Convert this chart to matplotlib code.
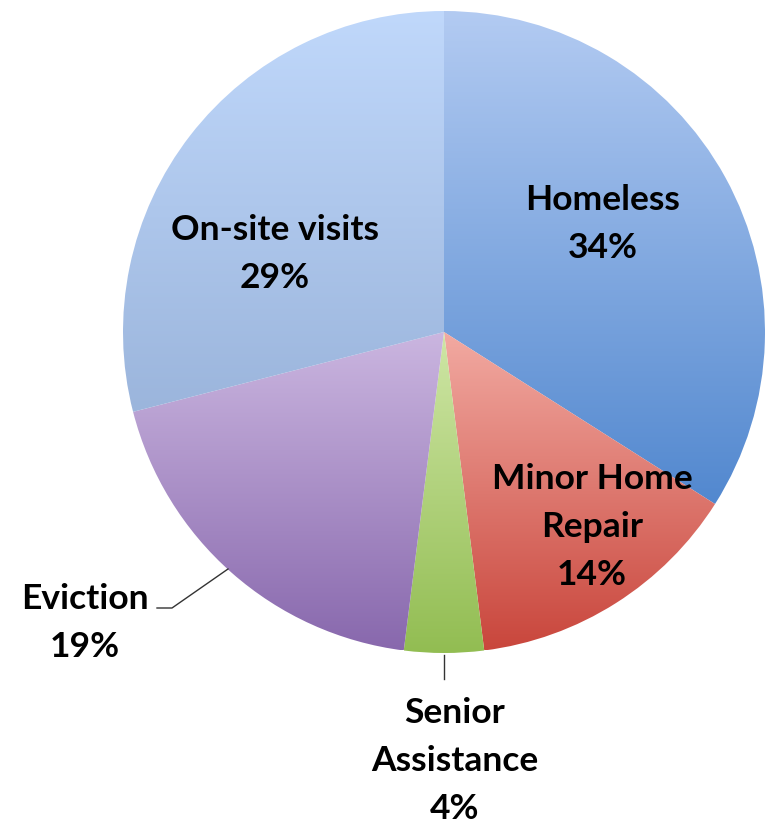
import numpy as np
import matplotlib.pyplot as plt
from matplotlib.colors import LinearSegmentedColormap

# data
labels = ['Homeless', 'Minor Home\nRepair', 'Senior\nAssistance', 'Eviction', 'On-site visits']
shares = [34, 14, 4, 19, 29]
top_colors = ['#b3cbf2', '#f2aaa2', '#cfe6a6', '#cbb6e0', '#c0d8fb']
bottom_colors = ['#5288cf', '#c9463c', '#92bd52', '#8868ad', '#9bb5dc']

fig = plt.figure(figsize=(7.73, 8.24), dpi=100)
ax = fig.add_axes([0, 0, 1, 1])

cx, cy, r = 444, 824 - 332, 321
wedges, _ = ax.pie(shares, startangle=90, counterclock=False,
                   center=(cx, cy), radius=r, colors=['none'] * 5,
                   wedgeprops=dict(linewidth=0))
ax.axis('off')

# vertical gradient fill, Excel style
grad = np.linspace(0, 1, 256).reshape(-1, 1)
for w, c0, c1 in zip(wedges, top_colors, bottom_colors):
    bb = w.get_path().get_extents()
    cmap = LinearSegmentedColormap.from_list('g', [c1, c0])
    im = ax.imshow(grad, cmap=cmap, origin='lower', aspect='auto',
                   extent=(bb.x0, bb.x1, bb.y0, bb.y1), zorder=1)
    im.set_clip_path(w)
ax.set_xlim(0, 773)
ax.set_ylim(0, 824)

font = dict(family='Lato', weight='bold', fontsize=25.5, ha='center', va='center',
            linespacing=1.62, zorder=5)

def Y(y):
    return 824 - y

ax.text(603, Y(224), 'Homeless\n34%', **font)
ax.text(275, Y(254), 'On-site visits\n29%', **font)
ax.text(592, Y(527), 'Minor Home\nRepair\n14%', **font)
ax.text(85, Y(623), 'Eviction\n19%', **font)
ax.text(455, Y(761), 'Senior\nAssistance\n4%', **font)

# leader lines
ax.plot([157, 172, 228], [Y(608), Y(608), Y(569)], color='#333333', lw=1, zorder=5)
ax.plot([444, 444], [Y(655), Y(679)], color='#333333', lw=1, zorder=5)

fig.savefig('out.png', dpi=100)
